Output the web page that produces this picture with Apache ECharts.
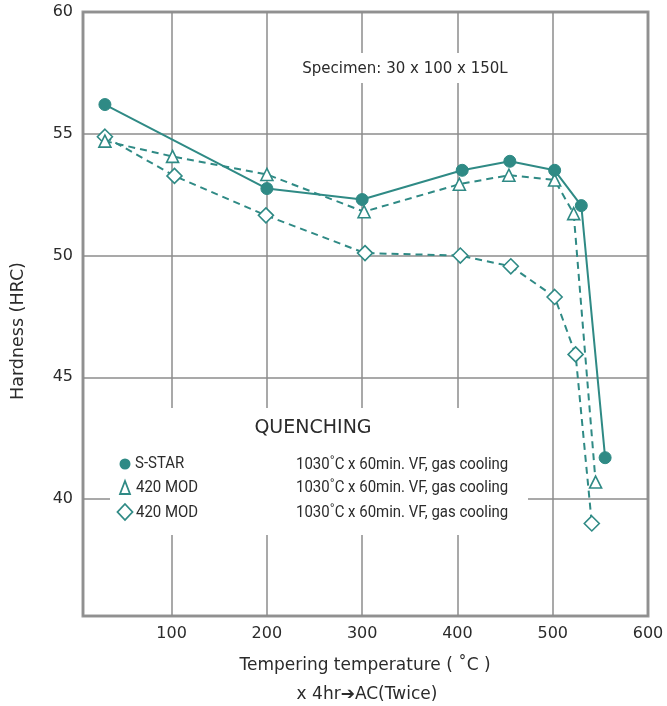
<!DOCTYPE html>
<html>
<head>
<meta charset="utf-8">
<script src="https://cdn.jsdelivr.net/npm/echarts@6/dist/echarts.min.js"></script>
<style>
html,body{margin:0;padding:0;background:#fff;}
#chart{width:667px;height:706px;}
</style>
</head>
<body>
<div id="chart"></div>
<script>
// Data
var sStarTemp = [30, 200, 300, 405, 455, 502, 530, 555];
var sStarHRC  = [56.2, 52.75, 52.3, 53.5, 53.87, 53.5, 52.05, 41.7];
var mod420aTemp = [30, 101, 200, 302, 402, 454, 502, 522, 545];
var mod420aHRC  = [54.7, 54.07, 53.33, 51.8, 52.93, 53.3, 53.1, 51.72, 40.7];
var mod420bTemp = [30, 103, 199, 303, 403, 456, 502, 524, 541];
var mod420bHRC  = [54.88, 53.27, 51.65, 50.1, 50.0, 49.56, 48.3, 45.94, 39.0];
var seriesNames = ['S-STAR', '420 MOD', '420 MOD'];
var conditionText = '1030˚C x 60min. VF, gas cooling';

function pairs(xs, ys){ return xs.map(function(x,i){ return [x, ys[i]]; }); }

var TEAL = '#2f8a85';
var TXT = '#2b2b2b';
var FONT = "'DejaVu Sans', 'Open Sans', sans-serif";
var NARROW = "'Liberation Sans Narrow', 'Roboto', sans-serif";

function narrowText(str, x, y){
  return {type: 'text', z: 10, x: x, y: y, scaleX: 0.88,
    style: {text: str, x: 0, y: 0, font: '17px ' + NARROW, fill: TXT,
            textVerticalAlign: 'middle', verticalAlign: 'middle'}};
}

var chart = echarts.init(document.getElementById('chart'), null, {renderer:'canvas'});
var option = {
  animation: false,
  backgroundColor: '#ffffff',
  grid: {left: 83, right: 19, top: 12, bottom: 90, show: true,
         borderColor: '#9a9a9a', borderWidth: 3, backgroundColor: 'transparent'},
  xAxis: {
    type: 'value', min: 7, max: 600, splitNumber: 6,
    axisLine: {show: false}, axisTick: {show: false},
    axisLabel: {showMinLabel: false, color: TXT, fontSize: 16, fontFamily: FONT, margin: 10},
    splitLine: {show: true, lineStyle: {color: '#8c8c8c', width: 1.5}}
  },
  yAxis: {
    type: 'value', min: 35.2, max: 60, splitNumber: 5,
    axisLine: {show: false}, axisTick: {show: false},
    axisLabel: {showMinLabel: false, color: TXT, fontSize: 16, fontFamily: FONT, margin: 10},
    splitLine: {show: true, lineStyle: {color: '#8c8c8c', width: 1.5}}
  },
  series: [
    {name: seriesNames[0], type: 'line', data: pairs(sStarTemp, sStarHRC),
     symbol: 'circle', symbolSize: 12, z: 5,
     lineStyle: {color: TEAL, width: 2},
     itemStyle: {color: TEAL, borderColor: TEAL}},
    {name: seriesNames[1], type: 'line', data: pairs(mod420aTemp, mod420aHRC),
     symbol: 'triangle', symbolSize: 12, z: 4,
     lineStyle: {color: TEAL, width: 2, type: [7,5]},
     itemStyle: {color: '#ffffff', borderColor: TEAL, borderWidth: 1.6}},
    {name: seriesNames[2], type: 'line', data: pairs(mod420bTemp, mod420bHRC),
     symbol: 'diamond', symbolSize: 15, z: 3,
     lineStyle: {color: TEAL, width: 2, type: [7,5]},
     itemStyle: {color: '#ffffff', borderColor: TEAL, borderWidth: 1.6}}
  ],
  graphic: [
    // white masks hiding the grid behind the annotations
    {type: 'rect', z: 1, shape: {x: 292, y: 53, width: 226, height: 30}, style: {fill: '#ffffff'}},
    {type: 'rect', z: 1, shape: {x: 110, y: 408, width: 418, height: 127}, style: {fill: '#ffffff'}},
    {type: 'text', z: 10, style: {text: 'Specimen: 30 x 100 x 150L', x: 405, y: 69, font: '15px ' + FONT,
      fill: TXT, textAlign: 'center', textVerticalAlign: 'middle', align: 'center', verticalAlign: 'middle'}},
    {type: 'text', z: 10, style: {text: 'QUENCHING', x: 313, y: 428, font: '19px ' + FONT,
      fill: TXT, textAlign: 'center', textVerticalAlign: 'middle', align: 'center', verticalAlign: 'middle'}},
    // legend
    {type: 'circle', z: 10, shape: {cx: 125, cy: 464, r: 5.5}, style: {fill: TEAL}},
    {type: 'polygon', z: 10, shape: {points: [[125,481],[120,494],[130,494]]}, style: {fill: '#fff', stroke: TEAL, lineWidth: 1.8}},
    {type: 'polygon', z: 10, shape: {points: [[125,504],[132.5,512],[125,520],[117.5,512]]}, style: {fill: '#fff', stroke: TEAL, lineWidth: 1.8}},
    narrowText(seriesNames[0], 135, 464),
    narrowText(seriesNames[1], 136, 488),
    narrowText(seriesNames[2], 136, 513),
    narrowText(conditionText, 296, 465),
    narrowText(conditionText, 296, 488),
    narrowText(conditionText, 296, 513),
    // axis titles
    {type: 'text', z: 10, style: {text: 'Tempering temperature ( ˚C )', x: 365, y: 666, font: '17px ' + FONT,
      fill: TXT, textAlign: 'center', textVerticalAlign: 'middle', align: 'center', verticalAlign: 'middle'}},
    {type: 'text', z: 10, style: {text: 'x 4hr➔AC(Twice)', x: 367, y: 695, font: '17px ' + FONT,
      fill: TXT, textAlign: 'center', textVerticalAlign: 'middle', align: 'center', verticalAlign: 'middle'}},
    {type: 'text', z: 10, x: 18, y: 331, rotation: Math.PI / 2, style: {text: 'Hardness (HRC)', x: 0, y: 0, font: '17.5px ' + FONT,
      fill: TXT, textAlign: 'center', textVerticalAlign: 'middle', align: 'center', verticalAlign: 'middle'}}
  ]
};
chart.setOption(option);
</script>
</body>
</html>
